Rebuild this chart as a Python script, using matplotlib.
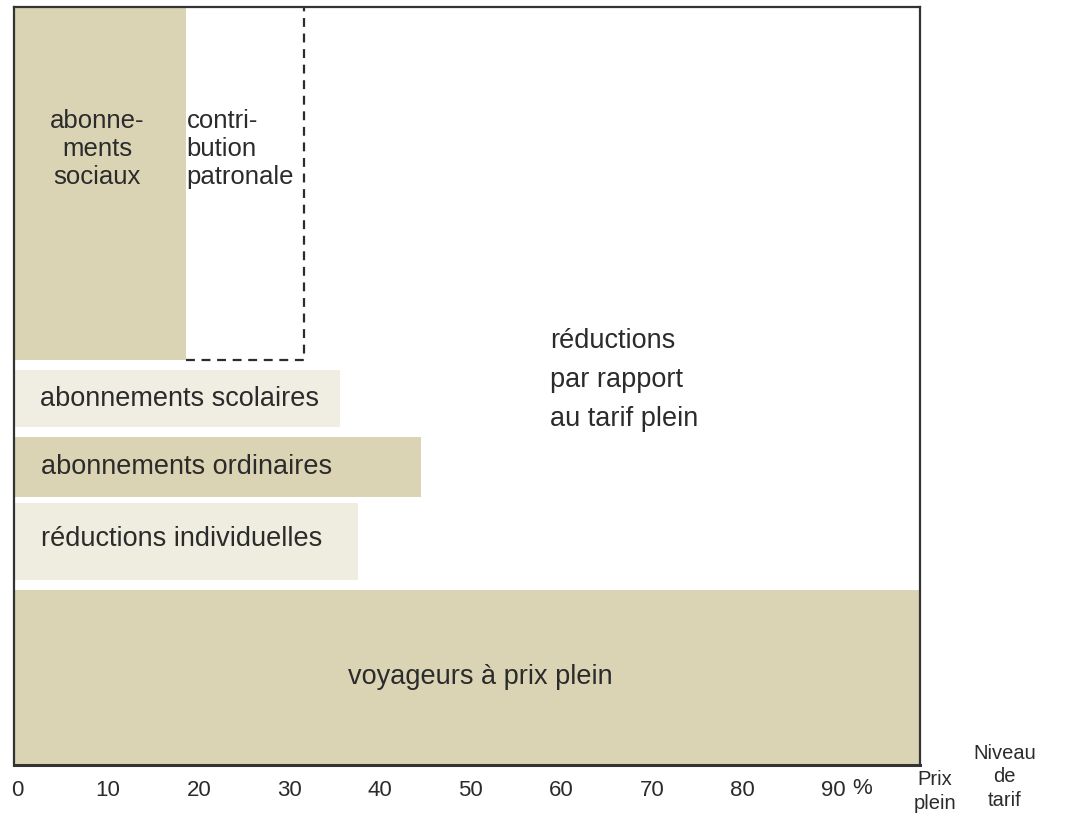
import matplotlib.pyplot as plt
from matplotlib.transforms import ScaledTranslation

# Données : niveau de tarif payé (% du prix plein) par catégorie
categories = ["voyageurs à prix plein", "réductions individuelles",
              "abonnements ordinaires", "abonnements scolaires",
              "abonnements sociaux"]
niveaux = [100, 38, 45, 36, 19]
contribution_patronale = 13  # s'ajoute aux abonnements sociaux

ticks = [0, 10, 20, 30, 40, 50, 60, 70, 80, 90]
tick_labels = ["0", "10", "20", "30", "40", "50", "60", "70", "80", "90"]

# Mise en page (bandes verticales, en unités d'écran)
bandes = [(0, 175), (185, 262), (268, 328), (338, 395), (405, 758)]
couleurs = ["#dbd4b4", "#efeddf", "#dbd4b4", "#f0eee2", "#dbd4b4"]

plt.rcParams['font.family'] = ['Liberation Sans', 'DejaVu Sans']
gris = "#2b2b2b"

fig = plt.figure(figsize=(10.65, 8.16), dpi=100)
ax = fig.add_axes([13.5 / 1065, 51 / 816, 906.5 / 1065, 758 / 816])

for (b0, b1), val, col in zip(bandes, niveaux, couleurs):
    ax.barh((b0 + b1) / 2, val, height=b1 - b0, left=0, color=col,
            edgecolor="none", zorder=1)

# Contribution patronale (cadre pointillé)
x0 = niveaux[4]
x1 = niveaux[4] + contribution_patronale
yb, yt = bandes[4]
ax.plot([x0, x1, x1], [yb, yb, yt], color=gris, lw=1.6,
        linestyle=(0, (4, 3)), zorder=2, clip_on=False)

ax.set_xlim(0, 100)
ax.set_ylim(0, 758)
for s in ax.spines.values():
    s.set_color("#333333")
    s.set_linewidth(1.6)
ax.spines['bottom'].set_linewidth(2.2)
ax.set_yticks([])
ax.set_xticks(ticks)
ax.set_xticklabels(tick_labels, fontsize=16, color=gris)
ax.tick_params(axis='x', length=0, pad=11)
decal = ScaledTranslation(4 / 100, 0, fig.dpi_scale_trans)
for lab in ax.get_xticklabels():
    lab.set_transform(lab.get_transform() + decal)
ax.text(93.6, -23, "%", fontsize=16, color=gris,
        ha='center', va='center', clip_on=False)

fs = 19.5
ax.text(9.2, 616, "abonne-\nments\nsociaux", fontsize=fs - 1, color=gris,
        ha='center', va='center', linespacing=1.2)
ax.text(19.1, 616, "contri-\nbution\npatronale", fontsize=fs - 1, color=gris,
        ha='left', va='center', linespacing=1.2)
ax.text(2.9, (bandes[3][0] + bandes[3][1]) / 2, categories[3], fontsize=fs,
        color=gris, ha='left', va='center')
ax.text(3.0, (bandes[2][0] + bandes[2][1]) / 2, categories[2], fontsize=fs,
        color=gris, ha='left', va='center')
ax.text(3.0, (bandes[1][0] + bandes[1][1]) / 2 + 2, categories[1], fontsize=fs,
        color=gris, ha='left', va='center')
ax.text(51.5, 88, categories[0], fontsize=fs, color=gris,
        ha='center', va='center')
ax.text(59.2, 385, "réductions\npar rapport\nau tarif plein", fontsize=fs,
        color=gris, ha='left', va='center', linespacing=1.65)

ax.text(101.6, -26.5, "Prix\nplein", fontsize=14.5, color=gris,
        ha='center', va='center', linespacing=1.3, clip_on=False)
ax.text(109.3, -12, "Niveau\nde\ntarif", fontsize=14.5,
        color=gris, ha='center', va='center', linespacing=1.3, clip_on=False)

fig.savefig("out.png", dpi=100, facecolor="white")
